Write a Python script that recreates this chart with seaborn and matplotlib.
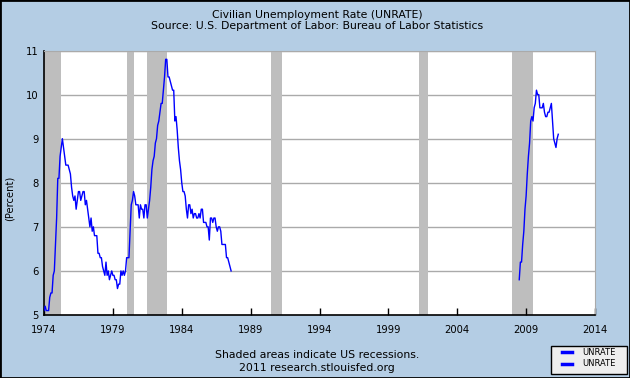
import numpy as np
import pandas as pd
import matplotlib
matplotlib.use('Agg')
import matplotlib.pyplot as plt
from matplotlib.lines import Line2D
from matplotlib.patches import Rectangle
import seaborn as sns

# Monthly civilian unemployment rate (percent), as drawn in the reference
unrate_1974_1987 = [
    5.1, 5.2, 5.1, 5.1, 5.1, 5.4, 5.5, 5.5, 5.9, 6.0, 6.6, 7.2,   # 1974
    8.1, 8.1, 8.6, 8.8, 9.0, 8.8, 8.6, 8.4, 8.4, 8.4, 8.3, 8.2,   # 1975
    7.9, 7.7, 7.6, 7.7, 7.4, 7.6, 7.8, 7.8, 7.6, 7.7, 7.8, 7.8,   # 1976
    7.5, 7.6, 7.4, 7.2, 7.0, 7.2, 6.9, 7.0, 6.8, 6.8, 6.8, 6.4,   # 1977
    6.4, 6.3, 6.3, 6.1, 6.0, 5.9, 6.2, 5.9, 6.0, 5.8, 5.9, 6.0,   # 1978
    5.9, 5.9, 5.8, 5.8, 5.6, 5.7, 5.7, 6.0, 5.9, 6.0, 5.9, 6.0,   # 1979
    6.3, 6.3, 6.3, 6.9, 7.5, 7.6, 7.8, 7.7, 7.5, 7.5, 7.5, 7.2,   # 1980
    7.5, 7.4, 7.4, 7.2, 7.5, 7.5, 7.2, 7.4, 7.6, 7.9, 8.3, 8.5,   # 1981
    8.6, 8.9, 9.0, 9.3, 9.4, 9.6, 9.8, 9.8, 10.1, 10.4, 10.8, 10.8,  # 1982
    10.4, 10.4, 10.3, 10.2, 10.1, 10.1, 9.4, 9.5, 9.2, 8.8, 8.5, 8.3,  # 1983
    8.0, 7.8, 7.8, 7.7, 7.4, 7.2, 7.5, 7.5, 7.3, 7.4, 7.2, 7.3,   # 1984
    7.3, 7.2, 7.2, 7.3, 7.2, 7.4, 7.4, 7.1, 7.1, 7.1, 7.0, 7.0,   # 1985
    6.7, 7.2, 7.2, 7.1, 7.2, 7.2, 7.0, 6.9, 7.0, 7.0, 6.9, 6.6,   # 1986
    6.6, 6.6, 6.6, 6.3, 6.3, 6.2, 6.1, 6.0,                       # 1987 (Jan-Aug)
]
unrate_2008_2011 = [
    5.8, 6.2, 6.2, 6.6, 6.9, 7.4,                                 # 2008 (Jul-Dec)
    7.7, 8.2, 8.6, 8.9, 9.4, 9.5, 9.4, 9.7, 9.8, 10.1, 10.0, 10.0,  # 2009
    9.7, 9.7, 9.7, 9.8, 9.6, 9.5, 9.5, 9.6, 9.6, 9.7, 9.8, 9.4,   # 2010
    9.0, 8.9, 8.8, 9.0, 9.1,                                      # 2011 (Jan-May)
]

# Recession periods (start, end) in decimal years
recessions = [(1973.9, 1975.2), (1980.0, 1980.55), (1981.5, 1982.92),
              (1990.5, 1991.25), (2001.2, 2001.9), (2008.0, 2009.5)]

year_ticks = [1974, 1979, 1984, 1989, 1994, 1999, 2004, 2009, 2014]
y_ticks = [5, 6, 7, 8, 9, 10, 11]

df1 = pd.DataFrame({'date': 1974 + np.arange(len(unrate_1974_1987)) / 12,
                    'rate': unrate_1974_1987})
df2 = pd.DataFrame({'date': 2008.5 + np.arange(len(unrate_2008_2011)) / 12,
                    'rate': unrate_2008_2011})

bg = '#b4cde4'
grid = '#aaaaaa'
blue = '#0000ff'

fig = plt.figure(figsize=(6.3, 3.78), dpi=100, facecolor=bg)
ax = fig.add_axes([44 / 630, 1 - 315 / 378, 551 / 630, 264.5 / 378])
ax.set_facecolor('white')

for a, b in recessions:
    ax.axvspan(a, b, color='#bebebe', lw=0, zorder=1)

for v in y_ticks[1:]:
    ax.axhline(v, color=grid, lw=1, zorder=0.5)

sns.lineplot(data=df1, x='date', y='rate', color=blue, lw=1, ax=ax, zorder=3)
sns.lineplot(data=df2, x='date', y='rate', color=blue, lw=1, ax=ax, zorder=3)

ax.set_xlim(1974, 2014)
ax.set_ylim(5, 11)
ax.set_xticks(year_ticks)
ax.set_yticks(y_ticks)
ax.tick_params(axis='x', direction='in', length=5, width=1, labelsize=7.2, pad=7, colors='black')
ax.tick_params(axis='y', length=0, labelsize=7.2, pad=4)
ax.set_xlabel('')
ax.set_ylabel('')
for s in ['top', 'right']:
    ax.spines[s].set_color(grid)
for s in ['left', 'bottom']:
    ax.spines[s].set_color('black')
    ax.spines[s].set_linewidth(1.2)

fig.text(10 / 630, 1 - 198 / 378, '(Percent)', rotation=90, ha='center', va='center', fontsize=7.2)

cx = 317 / 630
fs = 7.8
fig.text(cx, 1 - 14.5 / 378, 'Civilian Unemployment Rate (UNRATE)', ha='center', va='center', fontsize=fs)
fig.text(cx, 1 - 26 / 378, 'Source: U.S. Department of Labor: Bureau of Labor Statistics',
         ha='center', va='center', fontsize=fs)
fig.text(cx, 1 - 355 / 378, 'Shaded areas indicate US recessions.', ha='center', va='center', fontsize=fs)
fig.text(cx, 1 - 368 / 378, '2011 research.stlouisfed.org', ha='center', va='center', fontsize=fs)

# legend box drawn by hand, entries placed inside it
fig.patches.append(Rectangle((551 / 630, 1 - 374 / 378), 75.5 / 630, 28 / 378,
                             transform=fig.transFigure, facecolor='#eeeeee',
                             edgecolor='black', lw=1, zorder=5))
handles = [Line2D([], [], color=blue, lw=2.5) for _ in range(2)]
leg = fig.legend(handles, ['UNRATE', 'UNRATE'], loc='center',
                 bbox_to_anchor=(589 / 630, 1 - 358 / 378), fontsize=6,
                 frameon=False, handlelength=1.2, handletextpad=1.3,
                 labelspacing=0.35, borderpad=0, borderaxespad=0)
leg.set_zorder(6)

fig.patches.append(Rectangle((0, 0), 1, 1, transform=fig.transFigure, fill=False,
                             edgecolor='black', lw=2, zorder=10))

fig.savefig('out.png', dpi=100, facecolor=bg)
